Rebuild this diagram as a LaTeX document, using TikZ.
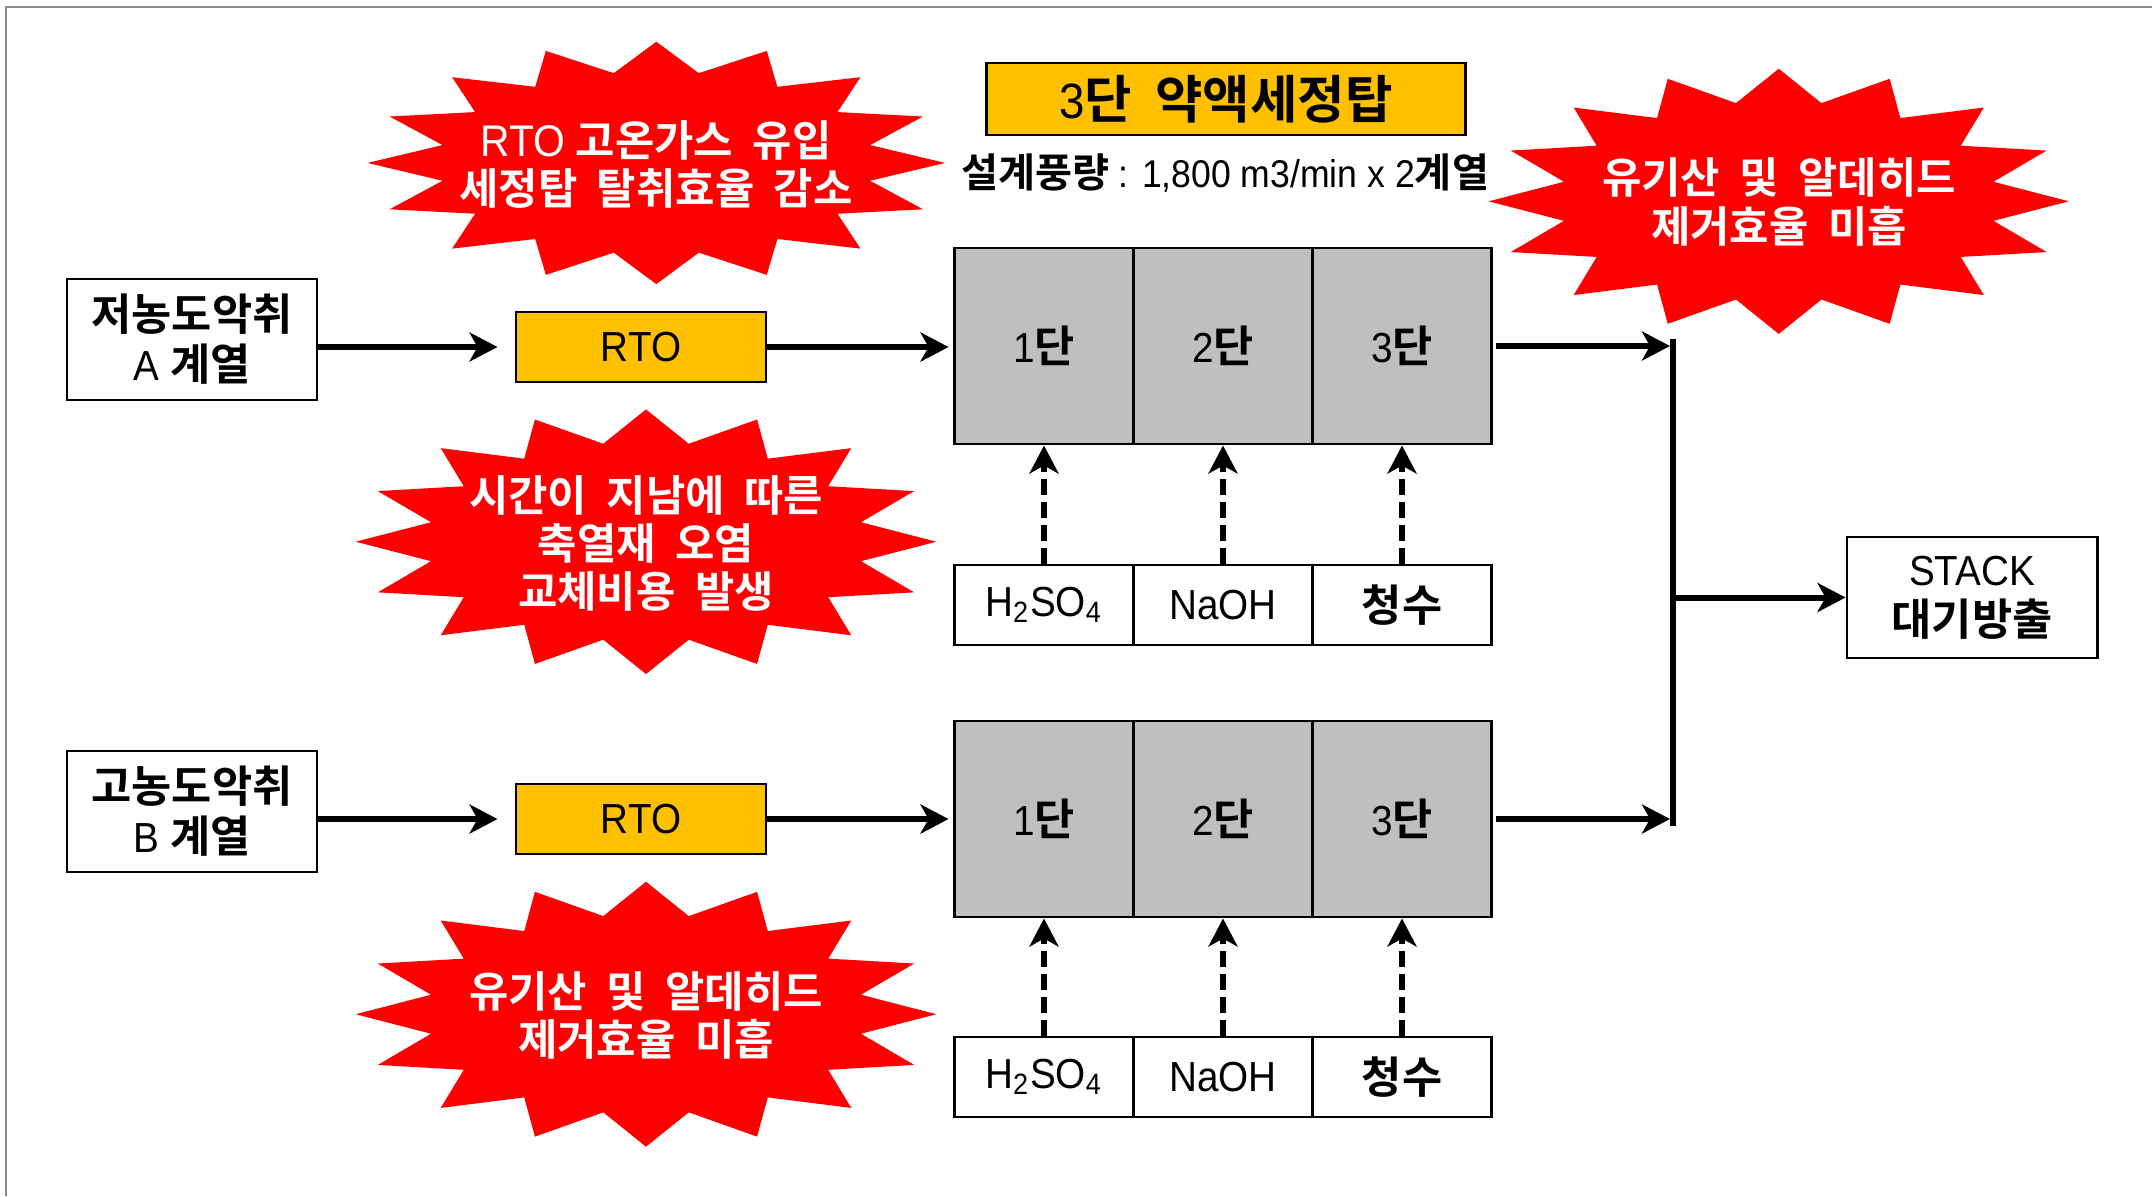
\documentclass[tikz,border=0pt]{standalone}
\usepackage{fontspec}
\setmainfont{Liberation Sans}[FakeStretch=0.92]
\newfontfamily\krfont{Noto Sans CJK KR}[BoldFont={Noto Sans CJK KR Bold}, Scale=1.04, WordSpace=2]
\newcommand\kor[1]{{\krfont\bfseries #1}}
\usetikzlibrary{arrows.meta}
\definecolor{rtoorange}{HTML}{FFC000}
\definecolor{towergray}{HTML}{BFBFBF}
\definecolor{framecol}{HTML}{8C8C8C}
\definecolor{burstred}{HTML}{FF0000}
\newcommand\starburst[4]{%
  \begin{scope}[shift={(#1,#2)}]
    \fill[burstred] (0:{#3} and {#4})
      \foreach \i in {1,...,16}{ -- ({\i*22.5-11.25}:{0.755*#3} and {0.755*#4}) -- ({\i*22.5}:{#3} and {#4})} -- cycle;
  \end{scope}}
\tikzset{
  box/.style={draw, line width=0.8pt, inner sep=0pt, align=center},
  mtext/.style={font=\fontsize{11.95pt}{14.2pt}\selectfont},
  srcbox/.style={box, mtext, minimum width=2.5cm, minimum height=1.21cm},
  rtobox/.style={box, mtext, fill=rtoorange, minimum width=2.5cm, minimum height=0.7cm},
  cell/.style={box, mtext, fill=towergray, minimum width=1.79cm, minimum height=1.96cm},
  chem/.style={box, mtext, fill=white, minimum width=1.79cm, minimum height=0.8cm},
  bursttext/.style={text=white, align=center, inner sep=0pt, font=\fontsize{11.7pt}{13.66pt}\selectfont},
  flow/.style={line width=1.7pt, -{Stealth[length=0.28cm, width=0.29cm, inset=0.08cm]}},
  feed/.style={flow, dash pattern=on 0.16cm off 0.07cm},
}
\begin{document}
\begin{tikzpicture}[x=0.01cm, y=-0.01cm]
\fill[white] (0,0) rectangle (2152,1196);
\useasboundingbox (0,0) rectangle (2152,1196);
\draw[framecol, line width=0.7pt] (6,1196) -- (6,7) -- (2152,7);

% starbursts
\starburst{656.3}{162.9}{288.7}{121.2}
\starburst{646}{541.7}{290.3}{132.3}
\starburst{646}{1014.2}{290.3}{132.5}
\starburst{1778.7}{201.3}{290}{132.6}
\node[bursttext] (w1) at (656,164) {{\fontsize{12.6pt}{13.66pt}\selectfont RTO} \kor{고온가스 유입}\\\kor{세정탑 탈취효율 감소}};
\node[bursttext] (w2) at (646,543) {\kor{시간이 지남에 따른}\\\kor{축열재 오염}\\\kor{교체비용 발생}};
\node[bursttext] (w3) at (646,1015) {\kor{유기산 및 알데히드}\\\kor{제거효율 미흡}};
\node[bursttext] (w4) at (1779,202) {\kor{유기산 및 알데히드}\\\kor{제거효율 미흡}};

% title
\node[box, fill=rtoorange, minimum width=4.78cm, minimum height=0.72cm,
      font=\fontsize{14.1pt}{16pt}\selectfont] (title) at (1226,99) {3\kor{단 약액세정탑}};
\node[inner sep=0pt, font=\fontsize{11pt}{13pt}\selectfont] (cap) at (1225,173)
      {\kor{설계풍량} : 1,800 m3/min x 2\kor{계열}};

% sources
\node[srcbox] (srcA) at (192,339.5) {\kor{저농도악취}\\A \kor{계열}};
\node[srcbox] (srcB) at (192,811.5) {\kor{고농도악취}\\B \kor{계열}};
\node[rtobox] (rtoA) at (641,347) {RTO};
\node[rtobox] (rtoB) at (641,819) {RTO};

% towers
\node[cell] (a1) at (1044,346) {1\kor{단}};
\node[cell] (a2) at (1223,346) {2\kor{단}};
\node[cell] (a3) at (1402,346) {3\kor{단}};
\node[chem] (ca1) at (1044,605) {H\textsubscript{2}SO\textsubscript{4}};
\node[chem] (ca2) at (1223,605) {NaOH};
\node[chem] (ca3) at (1402,605) {\kor{청수}};
\node[cell] (b1) at (1044,819) {1\kor{단}};
\node[cell] (b2) at (1223,819) {2\kor{단}};
\node[cell] (b3) at (1402,819) {3\kor{단}};
\node[chem] (cb1) at (1044,1077) {H\textsubscript{2}SO\textsubscript{4}};
\node[chem] (cb2) at (1223,1077) {NaOH};
\node[chem] (cb3) at (1402,1077) {\kor{청수}};

% stack
\node[srcbox] (stack) at (1972,597.5) {STACK\\\kor{대기방출}};

% flows
\draw[flow, shorten >=0.17cm] (srcA.east |- rtoA) -- (rtoA.west);
\draw[flow, shorten >=0.17cm] (srcB.east |- rtoB) -- (rtoB.west);
\draw[flow, shorten >=0.045cm] (rtoA.east) -- (rtoA.east -| a1.west);
\draw[flow, shorten >=0.045cm] (rtoB.east) -- (rtoB.east -| b1.west);

\coordinate (jtop) at (1673,339);
\coordinate (jbot) at (1673,826);
\draw[line width=1.7pt] (jtop) -- (jbot);
\draw[flow, shorten >=0.03cm] ([xshift=0.035cm]a3.east) -- (a3.east -| jtop);
\draw[flow, shorten >=0.03cm] ([xshift=0.035cm]b3.east) -- (b3.east -| jtop);
\draw[flow] (jtop |- stack.west) -- (stack.west);

\foreach \c in {1,2,3}{
  \draw[feed] (ca\c.north) -- (a\c.south);
  \draw[feed] (cb\c.north) -- (b\c.south);
}
\end{tikzpicture}
\end{document}
